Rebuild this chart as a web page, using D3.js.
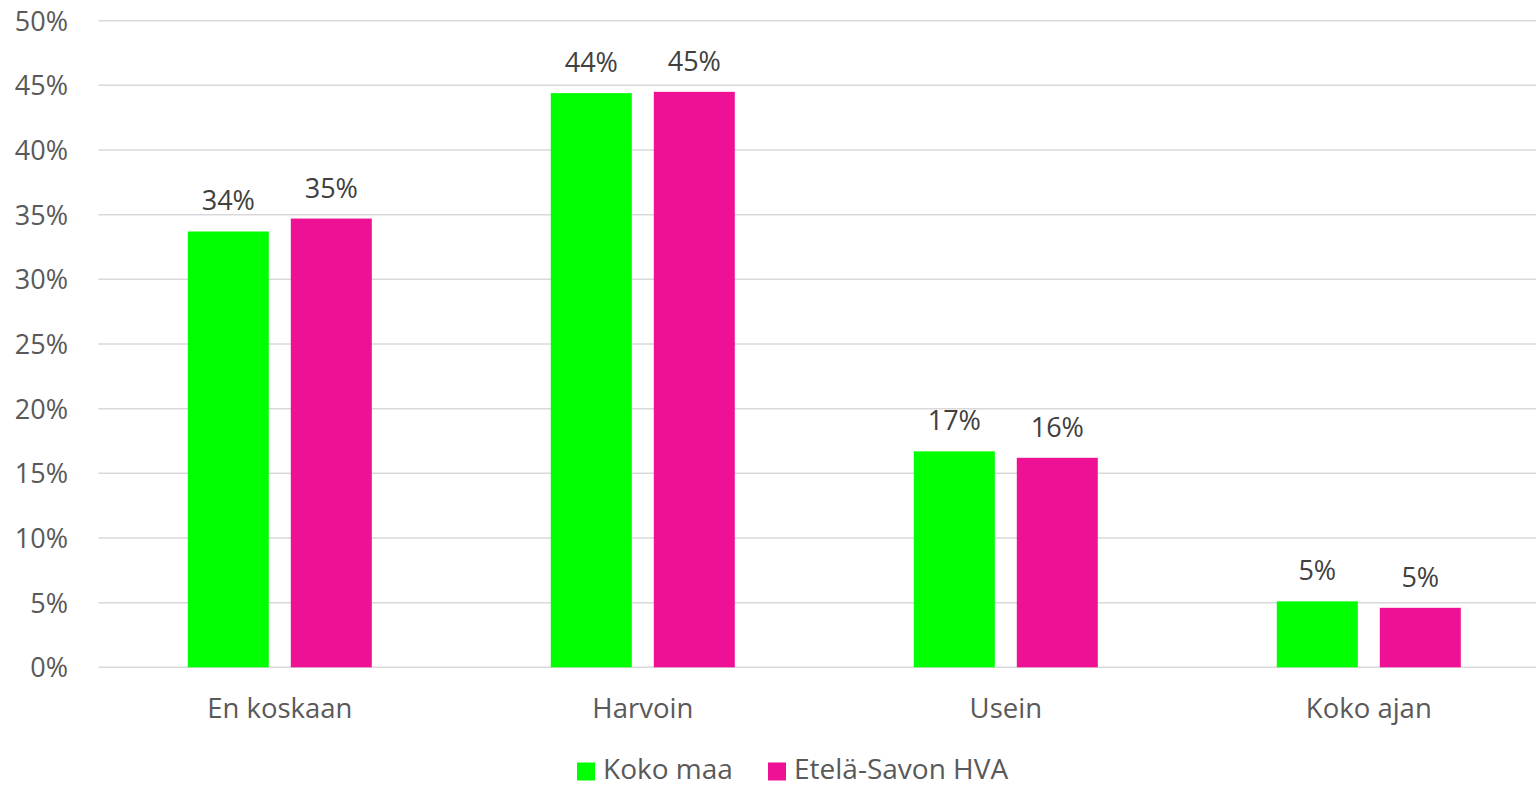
<!DOCTYPE html>
<html>
<head>
<meta charset="utf-8">
<script src="https://cdn.jsdelivr.net/npm/d3@7"></script>
<style>
  html, body { margin: 0; padding: 0; background: #ffffff; overflow: hidden; }
  svg { display: block; font-family: "Open Sans", "Noto Sans", sans-serif; }
</style>
</head>
<body>
<svg id="chart" width="1536" height="785"></svg>
<script>
// Answer categories
const categories = ["En koskaan", "Harvoin", "Usein", "Koko ajan"];
// Series names
const seriesNames = ["Koko maa", "Etelä-Savon HVA"];
// Shares in percent, one array per series
const kokoMaa = [33.7, 44.4, 16.7, 5.1];
const etelaSavo = [34.7, 44.5, 16.2, 4.6];
// Y axis ticks
const yTicks = [0, 5, 10, 15, 20, 25, 30, 35, 40, 45, 50];
const seriesColors = ["#00ff00", "#ee1196"];

const seriesValues = [kokoMaa, etelaSavo];
const rows = categories.map((c, i) => ({
  category: c,
  values: seriesNames.map((s, j) => ({ series: s, idx: j, value: seriesValues[j][i] }))
}));

const svg = d3.select("#chart");
const plot = { left: 98.3, right: 1550.3, top: 20.7, bottom: 667.3 };

const y = d3.scaleLinear().domain([0, 50]).range([plot.bottom, plot.top]);
const x0 = d3.scaleBand().domain(categories).range([plot.left, plot.right]).padding(0);
const x1 = d3.scaleBand().domain(seriesNames).range([0, x0.bandwidth()])
  .paddingInner(22 / 103).paddingOuter(0.869);

// Gridlines
svg.append("g")
  .selectAll("line")
  .data(yTicks)
  .join("line")
  .attr("x1", plot.left)
  .attr("x2", 1536)
  .attr("y1", d => y(d))
  .attr("y2", d => y(d))
  .attr("stroke", "#d9d9d9")
  .attr("stroke-width", 1.5);

// Y axis labels
const yAxis = d3.axisLeft(y).tickValues(yTicks).tickFormat(d => d + "%").tickSize(0).tickPadding(0);
const yg = svg.append("g").attr("transform", `translate(68,0)`).call(yAxis);
yg.select(".domain").remove();
yg.selectAll("text")
  .attr("fill", "#595959")
  .style("font-size", "27px")
  .style("font-family", "'Open Sans', sans-serif")
  .attr("dy", "0.35em");

// Bars
const groups = svg.append("g")
  .selectAll("g")
  .data(rows)
  .join("g")
  .attr("transform", d => `translate(${x0(d.category)},0)`);

groups.selectAll("rect")
  .data(d => d.values)
  .join("rect")
  .attr("x", d => x1(d.series))
  .attr("width", x1.bandwidth())
  .attr("y", d => y(d.value))
  .attr("height", d => y(0) - y(d.value))
  .attr("fill", d => seriesColors[d.idx]);

// Value labels
groups.selectAll("text")
  .data(d => d.values)
  .join("text")
  .attr("x", d => x1(d.series) + x1.bandwidth() / 2)
  .attr("y", d => y(d.value) - 21)
  .attr("text-anchor", "middle")
  .attr("fill", "#404040")
  .style("font-size", "27px")
  .text(d => Math.round(d.value) + "%");

// X axis labels
const xAxis = d3.axisBottom(x0).tickSize(0).tickPadding(0);
const xg = svg.append("g").attr("transform", `translate(0,718)`).call(xAxis);
xg.select(".domain").remove();
xg.selectAll("text")
  .attr("fill", "#595959")
  .attr("dy", 0)
  .attr("y", 0)
  .style("font-size", "27.5px")
  .style("font-family", "'Open Sans', sans-serif");

// Legend
const legendItems = [
  { name: seriesNames[0], color: seriesColors[0], x: 577 },
  { name: seriesNames[1], color: seriesColors[1], x: 768 }
];
const lg = svg.append("g");
lg.selectAll("rect")
  .data(legendItems)
  .join("rect")
  .attr("x", d => d.x)
  .attr("y", 762.5)
  .attr("width", 18)
  .attr("height", 18)
  .attr("fill", d => d.color);
lg.selectAll("text")
  .data(legendItems)
  .join("text")
  .attr("x", d => d.x + 26)
  .attr("y", 779)
  .attr("fill", "#595959")
  .style("font-size", "28px")
  .text(d => d.name);
</script>
</body>
</html>
